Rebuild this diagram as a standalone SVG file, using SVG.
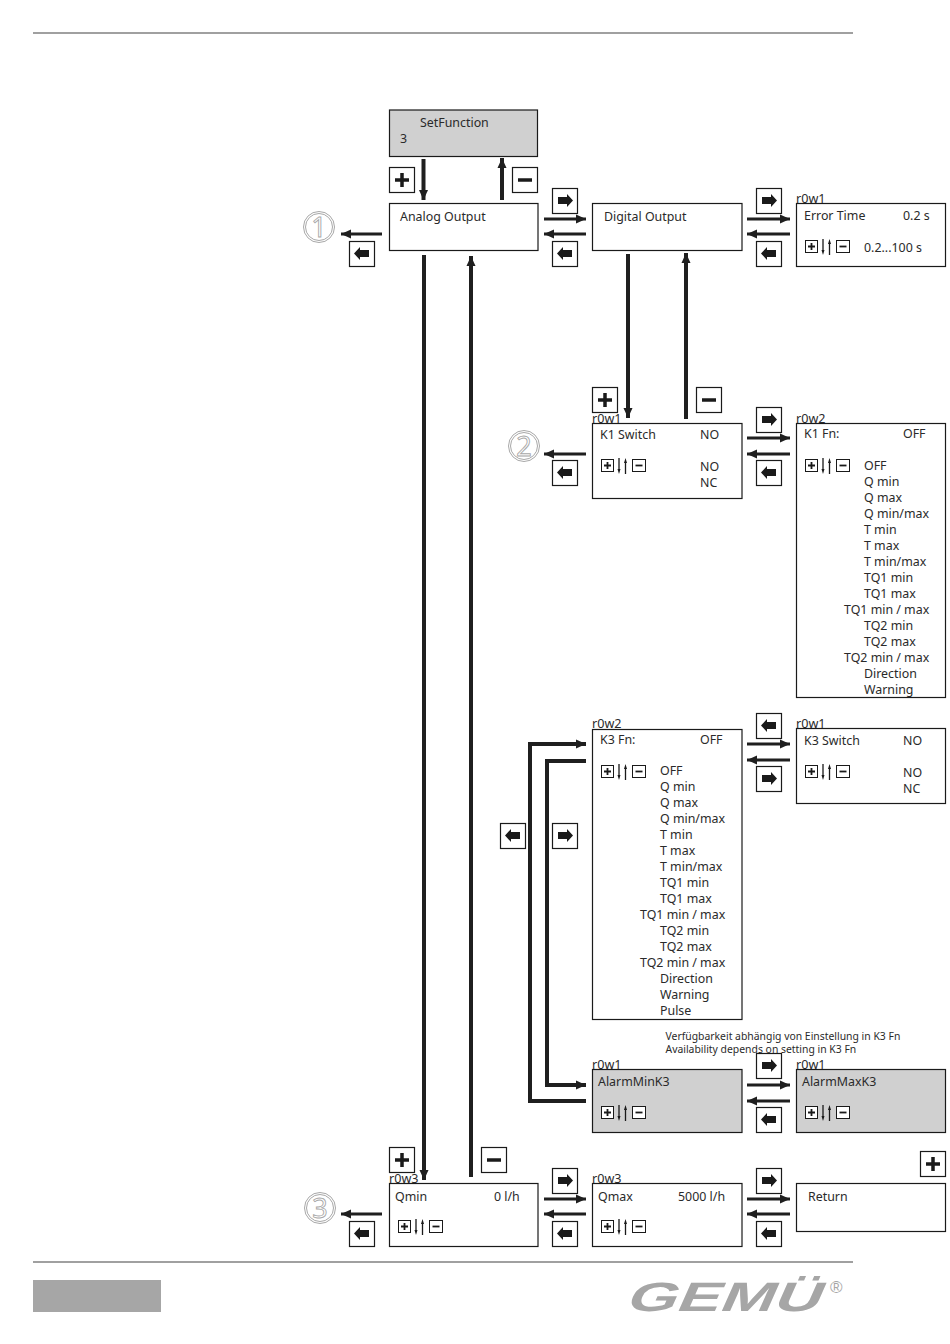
<svg xmlns="http://www.w3.org/2000/svg" width="950" height="1344" viewBox="0 0 950 1344">
<style>
text{font-family:"Noto Sans","DejaVu Sans",sans-serif;font-size:12.4px;fill:#2a2a2a}
.box{fill:#fff;stroke:#1a1a1a;stroke-width:1.2}
.gray{fill:#d0d0d0}
.btn{fill:#fff;stroke:#1a1a1a;stroke-width:1.2}
.c{fill:none;stroke:#1f1f1f;stroke-width:3}
.t{fill:none;stroke:#1f1f1f;stroke-width:4}
.r{stroke:#a8a8a8;fill:none;stroke-width:1}
.num{font-size:27px;fill:#fff;stroke:#a8a8a8;stroke-width:.9;text-anchor:middle}
.sm{font-size:12.6px}
.note{font-size:10.4px}
.rule{fill:#a0a0a0}
</style>
<defs>
<marker id="a" markerUnits="userSpaceOnUse" markerWidth="11" markerHeight="10" refX="10" refY="5" orient="auto"><path d="M0,0.5L10,5L0,9.500Z" fill="#1f1f1f"/></marker>
<g id="plus"><rect class="btn" x="0.500" y="0.500" width="25" height="25"/><path d="M13,6V20M6,13H20" stroke="#1a1a1a" stroke-width="3.500"/></g>
<g id="minus"><rect class="btn" x="0.500" y="0.500" width="25" height="25"/><path d="M6,13H20" stroke="#1a1a1a" stroke-width="3.500"/></g>
<g id="right"><rect class="btn" x="0.500" y="0.500" width="25" height="25"/><path d="M6,9H15V6L21,12.500L15,19V16H6Z" fill="#1a1a1a"/></g>
<g id="left"><rect class="btn" x="0.500" y="0.500" width="25" height="25"/><path d="M20,9H11V6L5,12.500L11,19V16H20Z" fill="#1a1a1a"/></g>
<g id="mini"><rect x="0.500" y="0.500" width="12" height="12" fill="#fff" stroke="#1a1a1a"/><path d="M6.500,3V10M3,6.500H10" stroke="#1a1a1a" stroke-width="1.800"/><path d="M18,-1V11M24.500,15V3" stroke="#1a1a1a" stroke-width="1.300"/><path d="M16.500,10L18,15L19.500,10ZM23,4L24.500,-1L26,4Z" fill="#1a1a1a"/><rect x="31.500" y="0.500" width="13" height="12" fill="#fff" stroke="#1a1a1a"/><path d="M34.500,6.500H41.500" stroke="#1a1a1a" stroke-width="1.800"/></g>
<g id="ring"><circle class="r" r="15.500"/><circle class="r" r="13.500"/></g>
</defs>

<rect class="rule" x="33" y="32" width="820" height="2"/>
<rect class="rule" x="33" y="1261" width="820" height="2"/>
<rect x="33" y="1280" width="128" height="32" fill="#a6a6a6"/>
<text transform="translate(624,1311) skewX(-24)" x="0" y="0" textLength="194" lengthAdjust="spacingAndGlyphs" style="font-family:'Liberation Sans',sans-serif;font-size:41px;font-weight:bold;fill:#a6a6a6">GEMÜ</text>
<text x="830" y="1293" style="font-family:'Liberation Sans',sans-serif;font-size:17px;fill:#a6a6a6">®</text>

<g id="connectors">
<path class="t" marker-end="url(#a)" d="M423.500,159V200"/>
<path class="t" marker-end="url(#a)" d="M502,200V158"/>
<path class="c" marker-end="url(#a)" d="M544,219H586"/>
<path class="c" marker-end="url(#a)" d="M586,234H544"/>
<path class="c" marker-end="url(#a)" d="M382,234H341"/>
<path class="t" marker-end="url(#a)" d="M424,255V1180"/>
<path class="t" marker-end="url(#a)" d="M471,1177V256"/>
<path class="c" marker-end="url(#a)" d="M747,219H790"/>
<path class="c" marker-end="url(#a)" d="M790,234H747"/>
<path class="t" marker-end="url(#a)" d="M628,254V418"/>
<path class="t" marker-end="url(#a)" d="M686,419V253"/>
<path class="c" marker-end="url(#a)" d="M586,454H544"/>
<path class="c" marker-end="url(#a)" d="M747,438H790"/>
<path class="c" marker-end="url(#a)" d="M790,454H747"/>
<path class="t" marker-end="url(#a)" d="M586,1101H530V744H586"/>
<path class="t" marker-end="url(#a)" d="M586,761H547V1085H586"/>
<path class="c" marker-end="url(#a)" d="M747,744H790"/>
<path class="c" marker-end="url(#a)" d="M790,760H747"/>
<path class="c" marker-end="url(#a)" d="M747,1085H790"/>
<path class="c" marker-end="url(#a)" d="M790,1101H747"/>
<path class="c" marker-end="url(#a)" d="M382,1214H341"/>
<path class="c" marker-end="url(#a)" d="M544,1199H586"/>
<path class="c" marker-end="url(#a)" d="M586,1214H544"/>
<path class="c" marker-end="url(#a)" d="M747,1199H790"/>
<path class="c" marker-end="url(#a)" d="M790,1214H747"/>
</g>

<g id="buttons">
<use href="#plus" x="389" y="167"/><use href="#minus" x="512" y="167"/>
<use href="#right" x="552" y="188"/><use href="#left" x="349" y="241"/><use href="#left" x="552" y="241"/>
<use href="#right" x="756" y="188"/><use href="#left" x="756" y="241"/>
<use href="#plus" x="592" y="387"/><use href="#minus" x="696" y="387"/>
<use href="#left" x="552" y="460"/><use href="#right" x="756" y="407"/><use href="#left" x="756" y="460"/>
<use href="#left" x="756" y="713"/><use href="#right" x="756" y="766"/>
<use href="#left" x="500" y="823"/><use href="#right" x="552" y="823"/>
<use href="#right" x="756" y="1053"/><use href="#left" x="756" y="1107"/>
<use href="#plus" x="389" y="1147"/><use href="#minus" x="481" y="1147"/>
<use href="#right" x="552" y="1168"/><use href="#left" x="349" y="1221"/><use href="#left" x="552" y="1221"/>
<use href="#right" x="756" y="1168"/><use href="#left" x="756" y="1221"/>
<use href="#plus" x="920" y="1151"/>
</g>

<g id="marker1"><use href="#ring" x="319" y="227"/><text class="num" x="319" y="237">1</text></g>
<g id="marker2"><use href="#ring" x="524" y="446"/><text class="num" x="524" y="456">2</text></g>
<g id="marker3"><use href="#ring" x="320" y="1208"/><text class="num" x="320" y="1218">3</text></g>

<g id="setfunction"><rect class="box gray" x="389.500" y="110" width="148" height="46.500"/><text x="420" y="127">SetFunction</text><text x="400" y="143">3</text></g>
<g id="analog"><rect class="box" x="389.500" y="203.500" width="148.500" height="47"/><text x="400" y="221">Analog Output</text></g>
<g id="digital"><rect class="box" x="592.500" y="203.500" width="149.500" height="47"/><text x="604" y="221">Digital Output</text></g>
<g id="errortime"><rect class="box" x="796.500" y="203.500" width="149" height="63"/><text class="sm" x="796" y="203">r0w1</text><text x="804" y="220">Error Time</text><text x="903" y="220">0.2 s</text><use href="#mini" x="805" y="240"/><text x="864" y="252">0.2...100 s</text></g>
<g id="k1switch"><rect class="box" x="592.500" y="423.500" width="149.500" height="75"/><text class="sm" x="592" y="423">r0w1</text><text x="600" y="439">K1 Switch</text><text x="700" y="439">NO</text><use href="#mini" x="601" y="459"/><text x="700" y="471">NO</text><text x="700" y="487">NC</text></g>
<g id="k1fn"><rect class="box" x="796.500" y="423.500" width="149" height="274"/><text class="sm" x="796" y="423">r0w2</text><text x="804" y="438">K1 Fn:</text><text x="903" y="438">OFF</text><use href="#mini" x="805" y="459"/>
<text x="864" y="470">OFF</text><text x="864" y="486">Q min</text><text x="864" y="502">Q max</text><text x="864" y="518">Q min/max</text><text x="864" y="534">T min</text><text x="864" y="550">T max</text><text x="864" y="566">T min/max</text><text x="864" y="582">TQ1 min</text><text x="864" y="598">TQ1 max</text><text x="844" y="614">TQ1 min / max</text><text x="864" y="630">TQ2 min</text><text x="864" y="646">TQ2 max</text><text x="844" y="662">TQ2 min / max</text><text x="864" y="678">Direction</text><text x="864" y="694">Warning</text></g>
<g id="k3fn"><rect class="box" x="592.500" y="729.500" width="149.500" height="290"/><text class="sm" x="592" y="728">r0w2</text><text x="600" y="744">K3 Fn:</text><text x="700" y="744">OFF</text><use href="#mini" x="601" y="765"/>
<text x="660" y="775">OFF</text><text x="660" y="791">Q min</text><text x="660" y="807">Q max</text><text x="660" y="823">Q min/max</text><text x="660" y="839">T min</text><text x="660" y="855">T max</text><text x="660" y="871">T min/max</text><text x="660" y="887">TQ1 min</text><text x="660" y="903">TQ1 max</text><text x="640" y="919">TQ1 min / max</text><text x="660" y="935">TQ2 min</text><text x="660" y="951">TQ2 max</text><text x="640" y="967">TQ2 min / max</text><text x="660" y="983">Direction</text><text x="660" y="999">Warning</text><text x="660" y="1015">Pulse</text></g>
<g id="k3switch"><rect class="box" x="796.500" y="728.500" width="149" height="75"/><text class="sm" x="796" y="728">r0w1</text><text x="804" y="745">K3 Switch</text><text x="903" y="745">NO</text><use href="#mini" x="805" y="765"/><text x="903" y="777">NO</text><text x="903" y="793">NC</text></g>
<g id="note"><text class="note" x="665.500" y="1040">Verfügbarkeit abhängig von Einstellung in K3 Fn</text><text class="note" x="665.500" y="1053">Availability depends on setting in K3 Fn</text></g>
<g id="alarmmin"><rect class="box gray" x="592.500" y="1069.500" width="149.500" height="63"/><text class="sm" x="592" y="1069">r0w1</text><text x="598" y="1086">AlarmMinK3</text><use href="#mini" x="601" y="1106"/></g>
<g id="alarmmax"><rect class="box gray" x="796.500" y="1069.500" width="149" height="63"/><text class="sm" x="796" y="1069">r0w1</text><text x="802" y="1086">AlarmMaxK3</text><use href="#mini" x="805" y="1106"/></g>
<g id="qmin"><rect class="box" x="389.500" y="1183.500" width="148.500" height="63"/><text class="sm" x="389" y="1183">r0w3</text><text x="395" y="1201">Qmin</text><text x="494" y="1201">0 l/h</text><use href="#mini" x="398" y="1220"/></g>
<g id="qmax"><rect class="box" x="592.500" y="1183.500" width="149.500" height="63"/><text class="sm" x="592" y="1183">r0w3</text><text x="598" y="1201">Qmax</text><text x="678" y="1201">5000 l/h</text><use href="#mini" x="601" y="1220"/></g>
<g id="return"><rect class="box" x="796.500" y="1183.500" width="149" height="48"/><text x="808" y="1201">Return</text></g>
</svg>
